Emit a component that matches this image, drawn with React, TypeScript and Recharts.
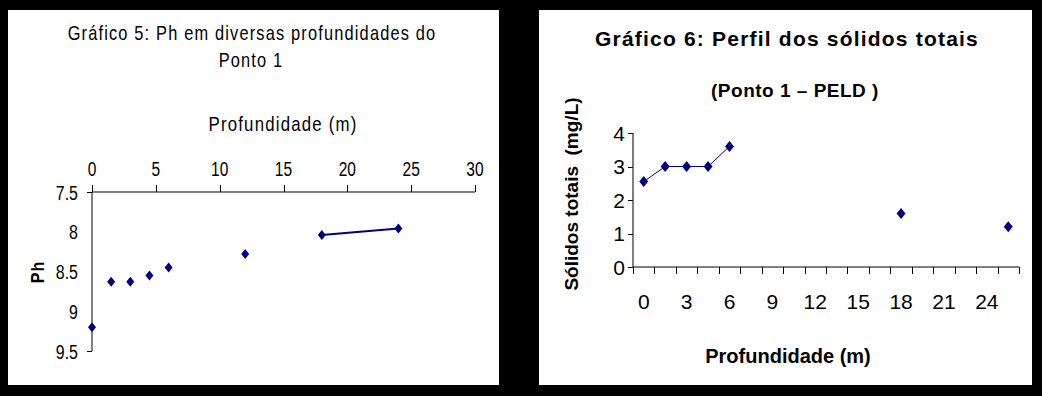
import { ComposedChart, LineChart, Line, Scatter, XAxis, YAxis } from "recharts";

// Gráfico 5 – pH por profundidade (Ponto 1)
const phDepths = [0, 1.5, 3, 4.5, 6, 12, 18, 24];
const phValues = [9.2, 8.63, 8.63, 8.55, 8.45, 8.28, 8.04, 7.96];
const phDepthTicks = [0, 5, 10, 15, 20, 25, 30];
const phTicks = [7.5, 8, 8.5, 9, 9.5];
const phLinkedFrom = 6; // only the two deepest points are joined

// Gráfico 6 – sólidos totais (categorias de 1,5 m)
const solidsDepths = [0, 1.5, 3, 4.5, 6, 7.5, 9, 10.5, 12, 13.5, 15, 16.5, 18, 19.5, 21, 22.5, 24, 25.5];
const solidsValues = [2.55, 3, 3, 3, 3.6, null, null, null, null, null, null, null, 1.6, null, null, null, null, 1.2];
const solidsLabelTicks = [0, 3, 6, 9, 12, 15, 18, 21, 24];
const solidsBoundaryTicks = [
  -0.75, 0.75, 2.25, 3.75, 5.25, 6.75, 8.25, 9.75, 11.25, 12.75, 14.25, 15.75, 17.25, 18.75, 20.25, 21.75,
  23.25, 24.75, 26.25,
];
const solidsTicks = [0, 1, 2, 3, 4];

const phData = phDepths.map((depth, i) => ({ depth, ph: phValues[i] }));
const solidsData = solidsDepths.map((depth, i) => ({ depth, solids: solidsValues[i] }));
const solidsAllTicks = [...solidsBoundaryTicks, ...solidsLabelTicks].sort((a, b) => a - b);

const NAVY = "#000080";
const arial = '"Liberation Sans", Arial, sans-serif';

// tick mark lengths / gaps, shared by the axes and their tick renderers
const TOP_MARK = 7;
const TOP_GAP = 9;
const LEFT_MARK = 5;
const LEFT_GAP = 9;
const R_LEFT_MARK = 5;
const R_LEFT_GAP = 3;
const R_BOTTOM_MARK = 7;
const R_BOTTOM_GAP = 20;

const crisp = (v: number) => Math.round(v) + 0.5;

const Diamond = (props: any) => {
  const { cx, cy, hw = 4, hh = 5 } = props;
  if (typeof cx !== "number" || typeof cy !== "number" || isNaN(cy)) return <g />;
  return (
    <polygon points={`${cx},${cy - hh} ${cx + hw},${cy} ${cx},${cy + hh} ${cx - hw},${cy}`} fill={NAVY} />
  );
};

// 1px vertical mark snapped to the pixel grid
const VMark = ({ x, y, len }: { x: number; y: number; len: number }) => (
  <rect x={Math.round(x)} y={Math.round(y)} width={1} height={len} fill="#000" shapeRendering="crispEdges" />
);

// the left chart uses a squeezed Arial, like the original export
const TopTick = (props: any) => (
  <g>
    <VMark x={props.x} y={props.y + TOP_GAP} len={TOP_MARK} />
    <g transform={`translate(${props.x},${props.y})`}>
      <text transform="scale(0.74,1)" textAnchor="middle" fontSize={21} fontFamily={arial} fill="#000">
        {props.payload.value}
      </text>
    </g>
  </g>
);

// original only marks the two ends of the pH axis
const LeftTick = (props: any) => {
  const v = props.payload.value;
  const isEnd = v === phTicks[0] || v === phTicks[phTicks.length - 1];
  return (
    <g>
      {isEnd && (
        <line
          x1={props.x + LEFT_GAP}
          x2={props.x + LEFT_GAP + LEFT_MARK}
          y1={crisp(props.y)}
          y2={crisp(props.y)}
          stroke="#000"
          shapeRendering="crispEdges"
        />
      )}
      <g transform={`translate(${props.x},${props.y})`}>
        <text transform="scale(0.76,1)" textAnchor="end" dy="0.36em" fontSize={21} fontFamily={arial} fill="#000">
          {v}
        </text>
      </g>
    </g>
  );
};

const SolidsYTick = (props: any) => (
  <g>
    <line
      x1={props.x + R_LEFT_GAP}
      x2={props.x + R_LEFT_GAP + R_LEFT_MARK}
      y1={crisp(props.y)}
      y2={crisp(props.y)}
      stroke="#000"
      shapeRendering="crispEdges"
    />
    <text x={props.x} y={props.y} textAnchor="end" dy="0.36em" fontSize={21} fontFamily={arial} fill="#000">
      {props.payload.value}
    </text>
  </g>
);

// category boundaries get a mark, category centres every 3 m get a label
const SolidsXTick = (props: any) => {
  const v = props.payload.value;
  if (solidsLabelTicks.includes(v)) {
    return (
      <text x={props.x} y={props.y} textAnchor="middle" dy="0.71em" fontSize={21} fontFamily={arial} fill="#000">
        {v}
      </text>
    );
  }
  return <VMark x={props.x} y={props.y - R_BOTTOM_GAP - R_BOTTOM_MARK} len={R_BOTTOM_MARK} />;
};

const centered = (x: number, y: number, extra: React.CSSProperties = {}, tf = ""): React.CSSProperties => ({
  position: "absolute",
  left: x,
  top: y,
  transform: `translate(-50%, -50%) ${tf}`,
  whiteSpace: "nowrap",
  lineHeight: 1,
  color: "#000",
  fontFamily: arial,
  ...extra,
});

function PhChart() {
  return (
    <div style={{ position: "absolute", left: 8, top: 10, width: 491, height: 375, background: "#fff" }}>
      <ComposedChart width={491} height={375} margin={{ top: 122, right: 24, bottom: 34, left: 0 }}>
        <XAxis
          type="number"
          dataKey="depth"
          orientation="top"
          domain={[0, 30]}
          ticks={phDepthTicks}
          interval={0}
          height={60}
          tickSize={TOP_MARK}
          tickMargin={TOP_GAP}
          stroke="#000"
          tickLine={false}
          tick={<TopTick />}
        />
        <YAxis
          type="number"
          dataKey="ph"
          domain={[7.5, 9.5]}
          ticks={phTicks}
          reversed
          interval={0}
          width={84}
          tickSize={LEFT_MARK}
          tickMargin={LEFT_GAP}
          stroke="#000"
          tickLine={false}
          tick={<LeftTick />}
        />
        <Scatter data={phData} dataKey="ph" shape={<Diamond hw={4} hh={5} />} isAnimationActive={false} />
        <Line
          data={phData.slice(phLinkedFrom)}
          dataKey="ph"
          stroke={NAVY}
          strokeWidth={2}
          dot={false}
          activeDot={false}
          isAnimationActive={false}
        />
      </ComposedChart>
      <div style={centered(244, 22, { fontSize: 21, letterSpacing: 1.5 }, "scaleX(0.78)")}>
        Gráfico 5: Ph em diversas profundidades do
      </div>
      <div style={centered(243, 49, { fontSize: 21, letterSpacing: 1.5 }, "scaleX(0.78)")}>Ponto 1</div>
      <div style={centered(275, 113, { fontSize: 21, letterSpacing: 1.5 }, "scaleX(0.8)")}>Profundidade (m)</div>
      <div style={centered(29, 262, { fontSize: 19, fontWeight: "bold", letterSpacing: 1 }, "rotate(-90deg) scaleX(0.85)")}>
        Ph
      </div>
    </div>
  );
}

function SolidsChart() {
  return (
    <div style={{ position: "absolute", left: 539, top: 10, width: 493, height: 375, background: "#fff" }}>
      <LineChart width={493} height={375} data={solidsData} margin={{ top: 123, right: 13, bottom: 67, left: 0 }}>
        <XAxis
          type="number"
          dataKey="depth"
          domain={[-0.75, 26.25]}
          ticks={solidsAllTicks}
          interval={0}
          tick={<SolidsXTick />}
          tickSize={R_BOTTOM_MARK}
          tickMargin={R_BOTTOM_GAP}
          tickLine={false}
          height={51}
          stroke="#000"
        />
        <YAxis
          type="number"
          domain={[0, 4]}
          ticks={solidsTicks}
          interval={0}
          width={94}
          tickSize={R_LEFT_MARK}
          tickMargin={R_LEFT_GAP}
          stroke="#000"
          tickLine={false}
          tick={<SolidsYTick />}
        />
        <Line
          dataKey="solids"
          stroke={NAVY}
          strokeWidth={1}
          connectNulls={false}
          dot={(p: any) => <Diamond key={p.index} {...p} hw={4.5} hh={5.5} />}
          activeDot={false}
          isAnimationActive={false}
        />
      </LineChart>
      <div style={centered(248, 28, { fontSize: 21, fontWeight: "bold", letterSpacing: 1.2 })}>
        Gráfico 6: Perfil dos sólidos totais
      </div>
      <div style={centered(256, 80, { fontSize: 19, fontWeight: "bold", letterSpacing: 0.5 })}>(Ponto 1 – PELD )</div>
      <div style={centered(249, 346, { fontSize: 20, fontWeight: "bold" })}>Profundidade (m)</div>
      <div style={centered(32, 184, { fontSize: 19, fontWeight: "bold" }, "rotate(-90deg)")}>
        Sólidos totais&nbsp;&nbsp;(mg/L)
      </div>
    </div>
  );
}

export default function App() {
  return (
    <div style={{ position: "absolute", left: 0, top: 0, width: 1042, height: 396, background: "#000", overflow: "hidden" }}>
      <PhChart />
      <SolidsChart />
    </div>
  );
}
